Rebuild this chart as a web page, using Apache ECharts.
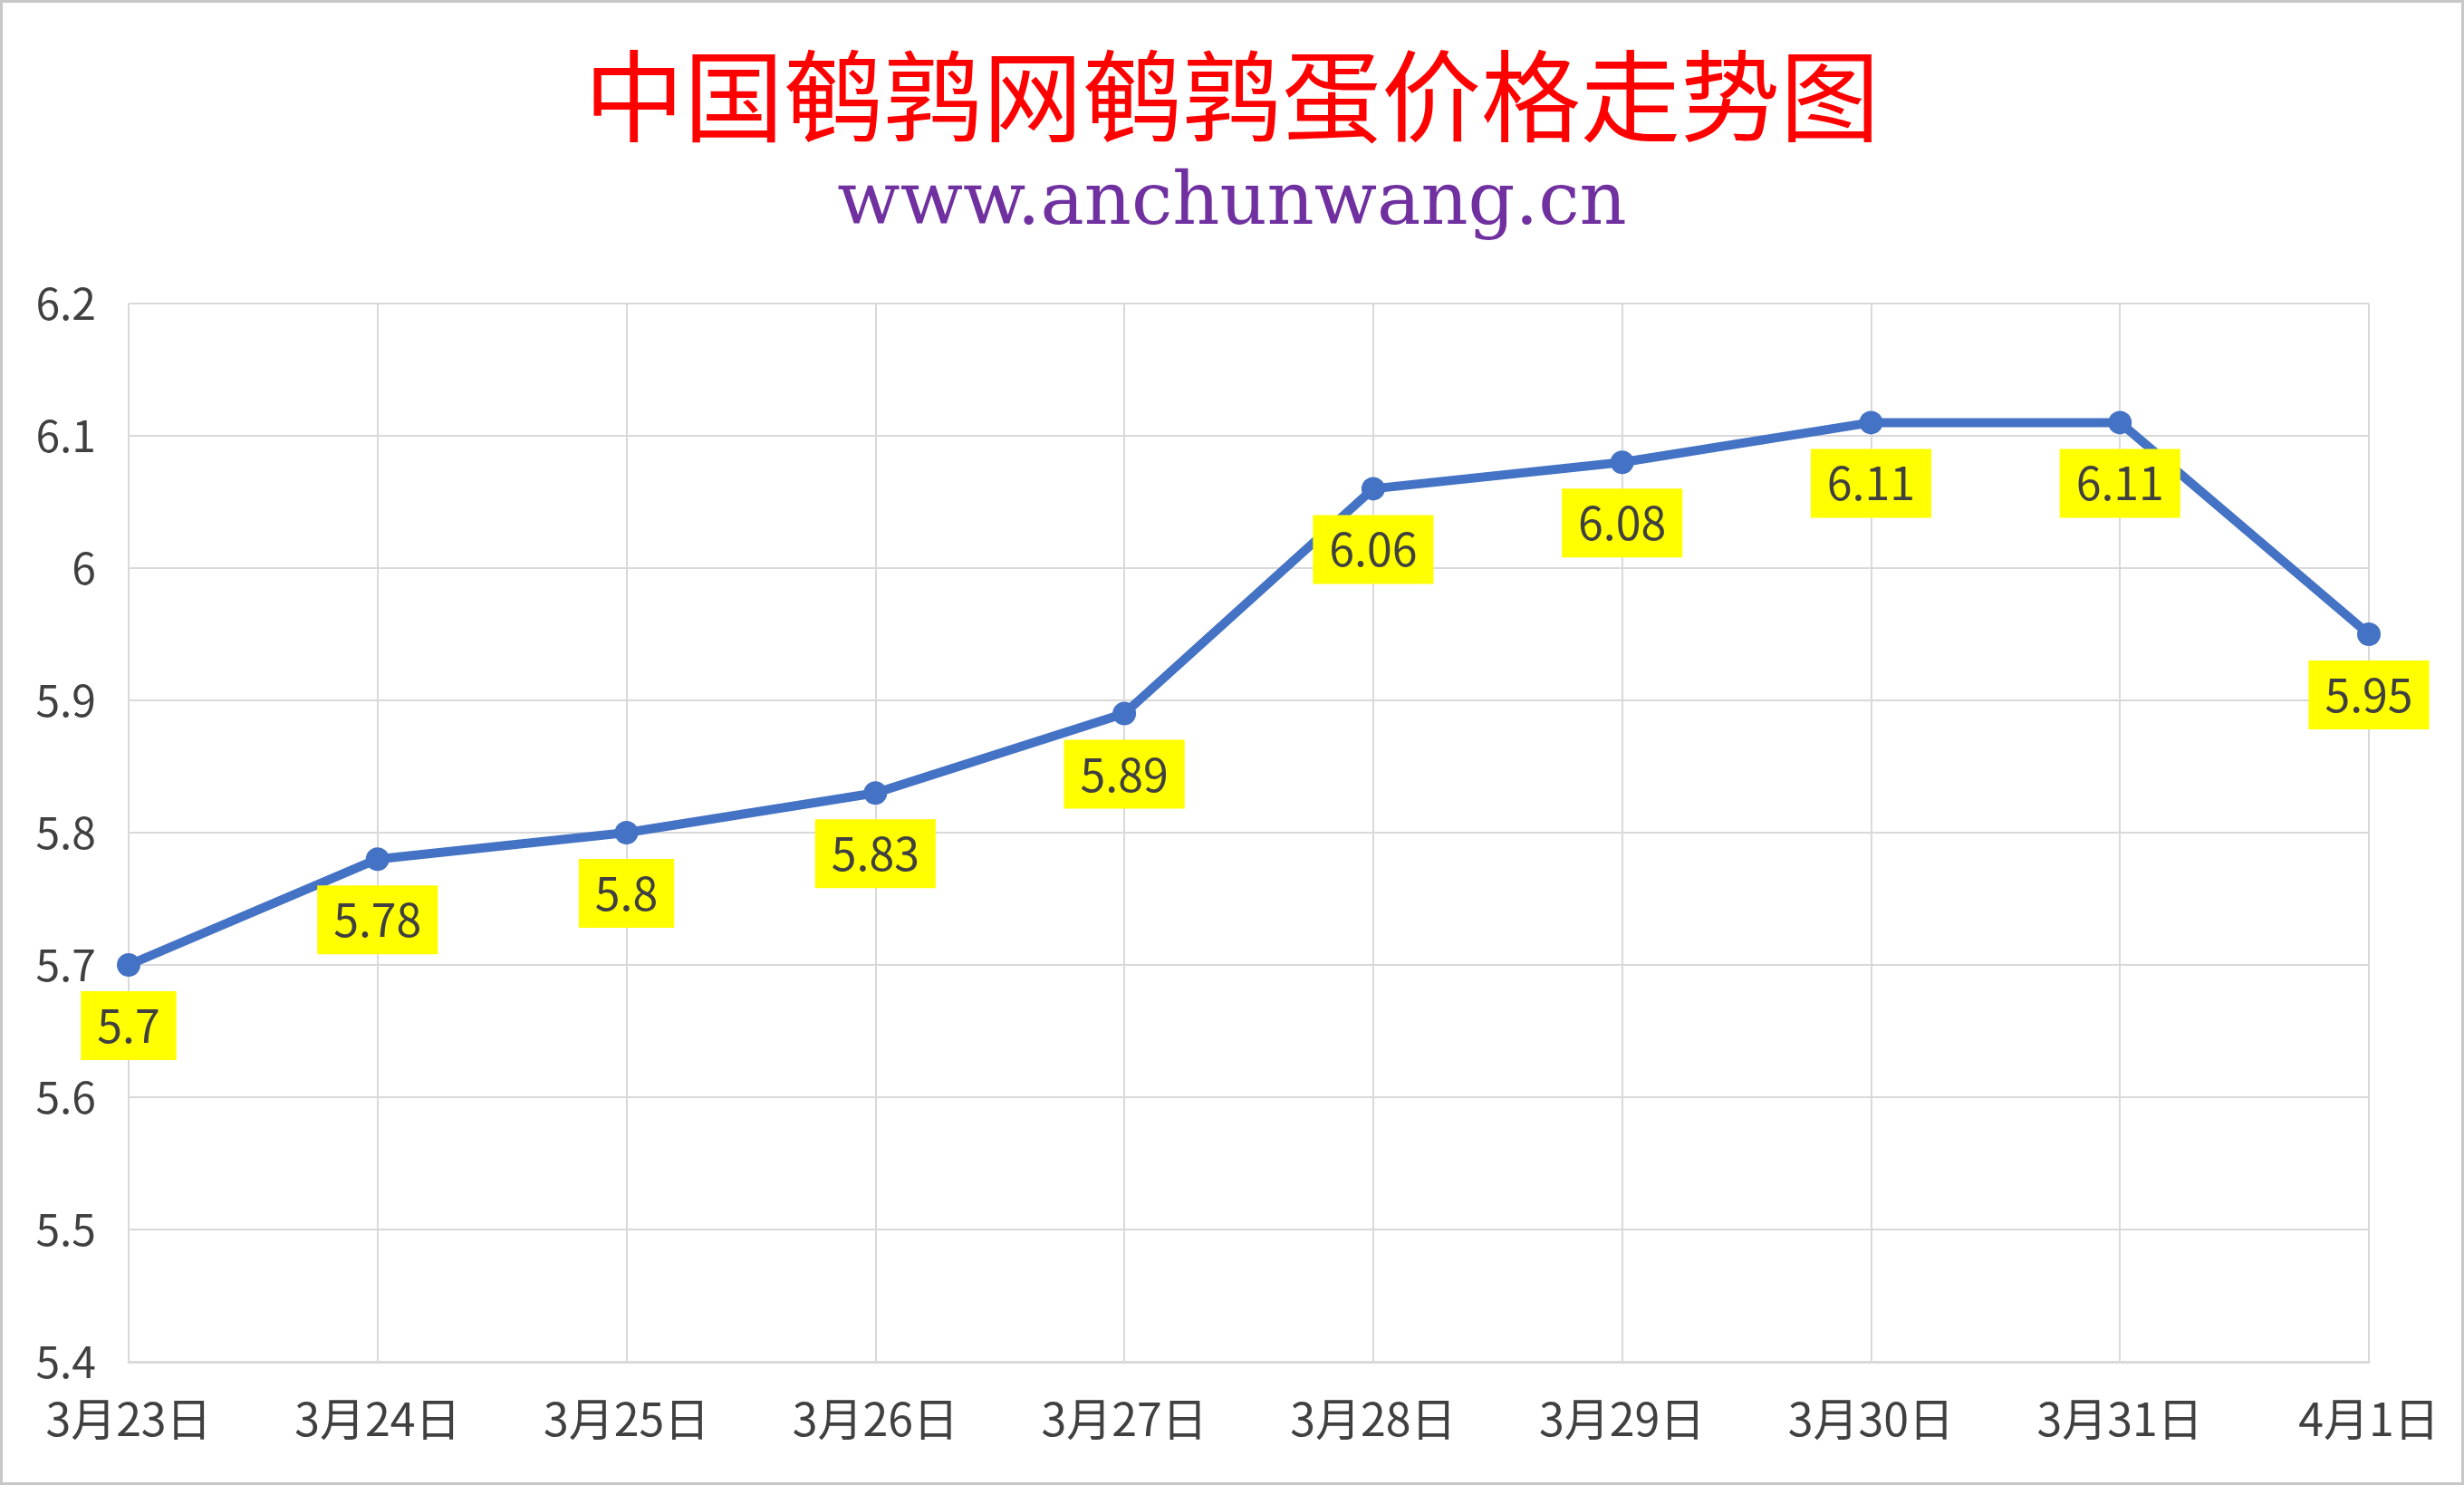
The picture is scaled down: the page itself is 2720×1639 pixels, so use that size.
<!DOCTYPE html>
<html lang="zh-CN">
<head>
    <meta charset="UTF-8">
    <title>中国鹌鹑网鹌鹑蛋价格走势图</title>
    <script src="https://cdn.jsdelivr.net/npm/echarts@6/dist/echarts.min.js"></script>
</head>
<style>
    html,body{
        margin: 0;
        padding: 0;
        background: #fff;
    }
    #wrap{
        position: relative;
        width: 2720px;
        height: 1639px;
    }
    #chart{
        width: 2720px;
        height: 1639px;
    }
    #frame{
        position: absolute;
        left: 0;
        top: 0;
        width: 2720px;
        height: 1639px;
        box-sizing: border-box;
        border: 3px solid #c8c8c8;
        pointer-events: none;
    }
</style>
<body>
    <div id="wrap">
        <div id="chart"></div>
        <div id="frame"></div>
    </div>
    <script>
        // 日期
        var days = ['3月23日','3月24日','3月25日','3月26日','3月27日','3月28日','3月29日','3月30日','3月31日','4月1日'];
        // 鹌鹑蛋价格
        var prices = [5.7, 5.78, 5.8, 5.83, 5.89, 6.06, 6.08, 6.11, 6.11, 5.95];
        var titleText = '中国鹌鹑网鹌鹑蛋价格走势图';
        var siteText = 'www.anchunwang.cn';

        var chart = echarts.init(document.getElementById('chart'));
        chart.setOption({
            backgroundColor: '#fff',
            animation: false,
            title: [
                {
                    text: titleText,
                    left: 'center',
                    top: 46,
                    textStyle: {
                        color: '#ff0000',
                        fontSize: 110,
                        fontWeight: 'normal',
                        fontFamily: 'Noto Sans CJK SC'
                    }
                },
                {
                    text: siteText,
                    left: 'center',
                    top: 180,
                    textStyle: {
                        color: '#7030a0',
                        fontSize: 81,
                        fontWeight: 'normal',
                        fontFamily: 'DejaVu Serif'
                    }
                }
            ],
            grid: {
                left: 142,
                right: 105,
                top: 335,
                bottom: 136
            },
            xAxis: {
                type: 'category',
                data: days,
                boundaryGap: false,
                axisLine: {
                    show: true,
                    lineStyle: {color: '#d9d9d9', width: 3}
                },
                axisTick: {show: false},
                axisLabel: {
                    color: '#404040',
                    fontSize: 50,
                    margin: 38,
                    fontFamily: 'Noto Sans CJK SC',
                    interval: 0
                },
                splitLine: {
                    show: true,
                    lineStyle: {color: '#d9d9d9', width: 2}
                }
            },
            yAxis: {
                type: 'value',
                min: 5.4,
                max: 6.2,
                interval: 0.1,
                axisLine: {show: false},
                axisTick: {show: false},
                axisLabel: {
                    color: '#404040',
                    fontSize: 48,
                    margin: 36,
                    fontFamily: 'Noto Sans CJK SC',
                    formatter: function(v){
                        return String(Math.round(v*10)/10);
                    }
                },
                splitLine: {
                    lineStyle: {color: '#d9d9d9', width: 2}
                }
            },
            series: [
                {
                    type: 'line',
                    data: prices,
                    symbol: 'circle',
                    symbolSize: 26,
                    lineStyle: {color: '#4472c4', width: 10},
                    itemStyle: {color: '#4472c4'},
                    label: {
                        show: true,
                        position: 'bottom',
                        distance: 16,
                        color: '#404040',
                        fontSize: 50,
                        fontFamily: 'Noto Sans CJK SC',
                        backgroundColor: '#ffff00',
                        padding: [13, 18]
                    }
                }
            ]
        });
    </script>
</body>
</html>
